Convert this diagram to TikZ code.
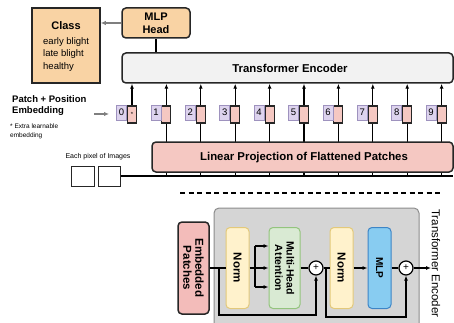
\documentclass[tikz,border=0pt]{standalone}
\usepackage{fontspec}
\setmainfont{Liberation Sans}
\usetikzlibrary{arrows.meta}
\pgfdeclarelayer{background}
\pgfsetlayers{background,main}

\definecolor{headfill}{HTML}{F9D3A4}
\definecolor{encfill}{HTML}{F2F2F2}
\definecolor{linfill}{HTML}{F5C8C2}
\definecolor{purfill}{HTML}{DDD3EE}
\definecolor{purdraw}{HTML}{9E92BE}
\definecolor{embfill}{HTML}{F3BCBA}
\definecolor{blockfill}{HTML}{D5D5D5}
\definecolor{blockdraw}{HTML}{8C8C8C}
\definecolor{normfill}{HTML}{FFF2CC}
\definecolor{normdraw}{HTML}{E3C97A}
\definecolor{mhafill}{HTML}{D9EAD3}
\definecolor{mhadraw}{HTML}{93C47D}
\definecolor{mlpfill}{HTML}{88CCF1}
\definecolor{mlpdraw}{HTML}{3D85C6}
\definecolor{linegray}{HTML}{7F7F7F}
\definecolor{ink}{HTML}{262626}

\tikzset{
  box/.style={draw=ink, line width=1.5pt, inner sep=0pt},
  rbox/.style={box, rounded corners=4pt},
  hdbox/.style={box, fill=headfill},
  tokpink/.style={box, line width=1.1pt, fill=linfill, minimum width=9pt, minimum height=17pt},
  tokpur/.style={draw=purdraw, line width=0.8pt, fill=purfill, inner sep=0pt,
    minimum width=10pt, minimum height=15pt, font=\fontsize{9.5}{10}\selectfont},
  conn/.style={draw=black, line width=1.2pt},
  arr/.style={conn, -{Latex[length=5pt,width=4pt]}},
  grayarr/.style={draw=linegray, line width=1.2pt, -{Latex[length=5pt,width=4.5pt]}},
  sub/.style={rbox, line width=1pt, minimum width=23pt, minimum height=81pt},
  vlabel/.style={rotate=-90, font=\bfseries\fontsize{11.5}{12}\selectfont, align=center, inner sep=0pt},
  plus/.style={circle, draw=black, line width=1.2pt, fill=white, minimum size=14pt, inner sep=0pt,
    font=\fontsize{10}{10}\selectfont},
  lst/.style={font=\fontsize{9.5}{11}\selectfont, inner sep=0pt, anchor=west, text height=7pt, text depth=2pt},
}

\begin{document}
\begin{tikzpicture}[x=1pt, y=-1pt]
\useasboundingbox (0,0) rectangle (454,323);

% ---------------- upper part: ViT overview ----------------
\node[hdbox, minimum width=68pt, minimum height=75pt] (cls) at (66,45.5) {};
\node[font=\bfseries\fontsize{11}{13}\selectfont, inner sep=0pt] (clst) at (66,26) {Class};
\node[lst] (c1) at (43,42) {early blight};
\node[lst] (c2) at (43,54.5) {late blight};
\node[lst] (c3) at (43,67) {healthy};

\node[hdbox, rounded corners=4pt, minimum width=68pt, minimum height=30pt, align=center,
      font=\bfseries\fontsize{11}{13}\selectfont] (mlph) at (156,23) {MLP\\Head};

\node[rbox, fill=encfill, minimum width=331pt, minimum height=30pt] (enc) at (287.5,68) {};
\node[font=\bfseries\fontsize{11.4}{13}\selectfont, inner sep=0pt] (enct) at (290,68.5) {Transformer Encoder};

\node[rbox, fill=linfill, minimum width=301pt, minimum height=30pt] (lin) at (302.5,157) {};
\node[font=\bfseries\fontsize{11.4}{13}\selectfont, inner sep=0pt] (lint) at (304,158) {Linear Projection of Flattened Patches};

% patch tokens
\foreach \i in {0,...,9} {
  \pgfmathsetmacro\xx{132+34.4*\i}
  \node[tokpink] (p\i) at (\xx,114.5) {};
  \node[tokpur] (q\i) at (\xx-10.5,112.5) {\i};
}
\node[font=\fontsize{6}{6}\selectfont, inner sep=0pt] (star) at (p0.center) {*};

% left-hand labels
\node[font=\bfseries\fontsize{9.5}{11}\selectfont, align=left, anchor=north west, inner sep=0pt] (ppe) at (12,95)
  {Patch + Position\\Embedding};
\coordinate (pa1) at (94,114);
\coordinate (pa2) at (109,114);
\draw[grayarr] (pa1) -- (pa2);
\node[font=\fontsize{6.5}{9}\selectfont, align=left, anchor=north west, inner sep=0pt] (extra) at (10,124)
  {* Extra learnable\\embedding};

\node[font=\fontsize{7}{8}\selectfont, inner sep=0pt] (pix) at (98,157) {Each pixel of Images};
\node[draw=ink, line width=1pt, fill=white, minimum width=23pt, minimum height=20pt] (img1) at (82.5,176) {};
\node[draw=ink, line width=1pt, fill=white, minimum width=22pt, minimum height=20pt] (img2) at (109,176) {};
\coordinate (baseR) at (453,176);

\draw[grayarr] (mlph.west) -- (cls.east |- mlph.west);

\begin{pgfonlayer}{background}
  \draw[conn] (mlph.south) -- (mlph.south |- enc.north);
  \draw[conn] (img2.east) -- (baseR);
  \draw[arr] (p0.south) -- (p0.north |- enc.south);
  \foreach \i in {1,...,9} {
    \draw[arr] (p\i.south |- baseR) -- (p\i.north |- enc.south);
  }
\end{pgfonlayer}

% separator
\coordinate (dl) at (180,193);
\coordinate (dr) at (441,193);
\draw[line width=1.8pt, dash pattern=on 5pt off 3.5pt] (dl) -- (dr);

% ---------------- lower part: encoder block ----------------
\node[draw=blockdraw, line width=1pt, fill=blockfill, rounded corners=5pt,
      minimum width=205pt, minimum height=124pt] (blk) at (316.5,270) {};

\node[rbox, fill=embfill, minimum width=31pt, minimum height=92pt] (emb) at (193.5,268) {};
\node[vlabel] (embt) at (emb.center) {Embedded\\Patches};

\node[sub, draw=normdraw, fill=normfill] (n1) at (237.5,268) {};
\node[vlabel] (n1t) at (n1.center) {Norm};

\node[sub, draw=mhadraw, fill=mhafill, minimum width=31pt] (mha) at (284.5,268) {};
\node[vlabel, font=\bfseries\fontsize{10.5}{11.5}\selectfont] (mhat) at (mha.center) {Multi-Head\\Attention};

\node[plus] (s1) at (316,268) {+};

\node[sub, draw=normdraw, fill=normfill] (n2) at (341.5,268) {};
\node[vlabel] (n2t) at (n2.center) {Norm};

\node[sub, draw=mlpdraw, fill=mlpfill] (mlp) at (379.5,268) {};
\node[vlabel, font=\bfseries\fontsize{10}{11}\selectfont] (mlpt) at (mlp.center) {MLP};

\node[plus] (s2) at (406,268) {+};

\coordinate (out) at (431,268);
\node[rotate=-90, anchor=west, font=\fontsize{11.5}{12}\selectfont, inner sep=0pt] (blkt) at (436,209)
  {Transformer Encoder};

% residual paths
\coordinate (r1a) at (219,268);
\coordinate (r1b) at (219,315);
\coordinate (r2a) at (326,268);
\coordinate (r2b) at (326,317);
\coordinate (fan) at (255,268);
\coordinate (fanT) at (255,246);
\coordinate (fanB) at (255,287);

\draw[conn] (emb.east) -- (n1.west);
\draw[arr] (r1a) -- (r1b) -| (s1.south);
\draw[conn] (n1.east) -- (fan);
\draw[arr] (fan) -- (mha.west);
\draw[conn] (fanT) -- (fanB);
\draw[arr] (fanT) -- (fanT -| mha.west);
\draw[arr] (fanB) -- (fanB -| mha.west);
\draw[conn] (mha.east) -- (s1.west);
\draw[conn] (s1.east) -- (n2.west);
\draw[arr] (r2a) -- (r2b) -| (s2.south);
\draw[arr] (n2.east) -- (mlp.west);
\draw[conn] (mlp.east) -- (s2.west);
\draw[arr] (s2.east) -- (out);
\end{tikzpicture}
\end{document}
